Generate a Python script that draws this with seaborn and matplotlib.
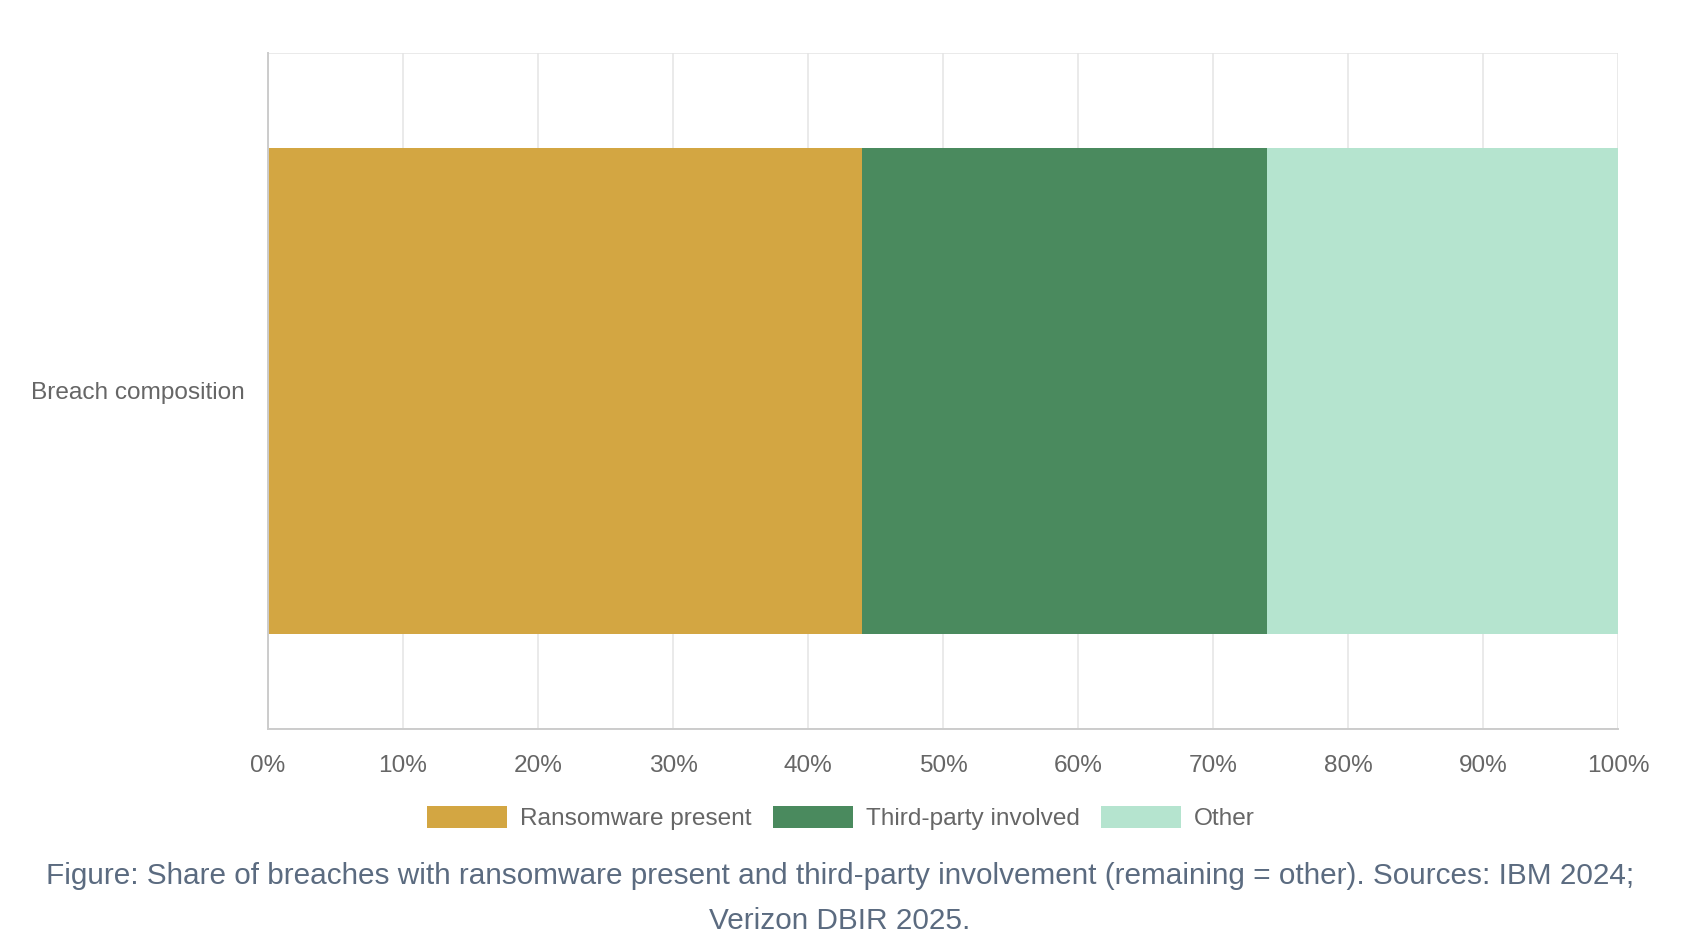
import numpy as np
import pandas as pd
import matplotlib
matplotlib.use("Agg")
import matplotlib.pyplot as plt
from matplotlib.patches import Patch
import seaborn as sns

categories = ["Breach composition"]
series = ["Ransomware present", "Third-party involved", "Other"]
ransomware = [44]
third_party = [30]
other = [26]
colors = ["#D3A642", "#4A8A5E", "#B5E4CF"]
x_ticks = list(range(0, 101, 10))
caption = [
    "Figure: Share of breaches with ransomware present and third-party involvement (remaining = other). Sources: IBM 2024;",
    "Verizon DBIR 2025.",
]

sns.set_style("white")
plt.rcParams["font.family"] = ["Liberation Sans", "DejaVu Sans"]

W, H = 1700, 950
fig = plt.figure(figsize=(W / 100, H / 100), dpi=100)
ax = fig.add_axes([268 / W, 1 - 729 / H, 1350 / W, 676 / H])

df = pd.DataFrame({"Ransomware present": ransomware,
                   "Third-party involved": third_party,
                   "Other": other}, index=categories)
cum = df[series].cumsum(axis=1)

# stacked bars: draw the cumulative totals, longest first
for name, c in reversed(list(zip(series, colors))):
    sns.barplot(x=cum[name].values, y=categories, orient="h", color=c,
                saturation=1, width=0.72, linewidth=0, ax=ax, zorder=2)

ax.set_xlim(0, 100)
ax.set_ylim(0.5, -0.5)
ax.set_xlabel("")
ax.set_ylabel("")

grid_c = "#e4e4e4"
axis_c = "#cccccc"
text_c = "#666666"
fs = 17.6

ax.set_xticks(x_ticks)
ax.set_xticklabels([f"{t}%" for t in x_ticks])
ax.tick_params(axis="x", length=11.5, width=1.1, color=grid_c, pad=7,
               labelsize=fs, labelcolor=text_c)
ax.grid(axis="x", color=grid_c, linewidth=1.1)
ax.set_axisbelow(True)

ax.set_yticks([-0.5, 0.5], minor=True)
ax.tick_params(axis="y", which="major", length=0, pad=16.5,
               labelsize=fs, labelcolor=text_c)
ax.tick_params(axis="y", which="minor", length=11.5, width=1.1, color=grid_c)
ax.grid(axis="y", which="minor", color=grid_c, linewidth=1.1)

for s in ["top", "right"]:
    ax.spines[s].set_visible(False)
for s in ["left", "bottom"]:
    ax.spines[s].set_color(axis_c)
    ax.spines[s].set_linewidth(1.4)

handles = [Patch(facecolor=c, edgecolor="none", label=s) for s, c in zip(series, colors)]
fig.legend(handles=handles, loc="center", bbox_to_anchor=(841 / W, 1 - 818 / H),
           ncol=3, frameon=False, fontsize=fs, labelcolor=text_c,
           handlelength=3.28, handleheight=1.0, handletextpad=0.52,
           columnspacing=0.88)

cap_c = "#5b6b80"
fig.text(840 / W, 1 - 876 / H, caption[0], ha="center", va="center",
         fontsize=21.4, color=cap_c)
fig.text(840 / W, 1 - 921 / H, caption[1], ha="center", va="center",
         fontsize=21.4, color=cap_c)

fig.savefig("out.png", dpi=100, facecolor="white")
